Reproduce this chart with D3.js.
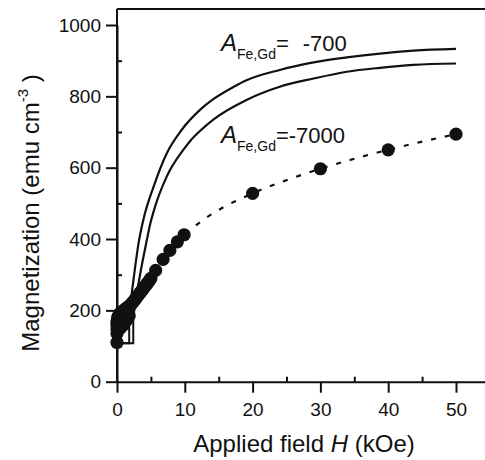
<!DOCTYPE html>
<html><head><meta charset="utf-8">
<script src="https://cdn.jsdelivr.net/npm/d3@7"></script>
<style>
html,body{margin:0;padding:0;background:#fff;}
svg{display:block;}
text{font-family:"Liberation Sans",Arial,Helvetica,sans-serif;fill:#111;}
</style></head>
<body>
<svg id="chart" width="485" height="460"></svg>
<script>
// ---- data ----
const xTicks = [0, 10, 20, 30, 40, 50];
const yTicks = [0, 200, 400, 600, 800, 1000];
const xMinor = [5, 15, 25, 35, 45];
const yMinor = [100, 300, 500, 700, 900];

// curve A(Fe,Gd) = -700 : flat part + rise
const upperFlatH = [0, 1.8, 1.8];
const upperFlatM = [108, 108, 190];
const upperH = [1.8, 2.2, 2.65, 3.15, 3.9, 5.4, 7.33, 9.5, 12.24, 14.2, 17.15, 19.1, 24, 29, 33.9, 38.8, 43.7, 50];
const upperM = [190, 252, 318, 385, 455, 547, 640, 705, 762, 792, 826, 845, 874, 895, 909, 920, 928, 933];

// curve A(Fe,Gd) = -7000
const lowerFlatH = [0, 2.4, 2.4];
const lowerFlatM = [108, 108, 182];
const lowerH = [2.4, 2.9, 3.4, 4.4, 4.87, 5.6, 7.33, 9.78, 10.8, 12.24, 14.2, 19.1, 24, 29, 33.9, 38.8, 43.7, 50];
const lowerM = [182, 245, 300, 397, 440, 490, 575, 650, 675, 703, 735, 790, 827, 850, 869, 880, 888, 892];

// measured points
const dotH = [0, 0, 0, 0, 0, 0.05, 0.1, 0.15, 0.2, 0.3, 0.4, 0.5, 0.6, 0.8, 1.0, 1.2, 1.4, 1.6, 1.8, 2.0, 2.2, 2.4, 2.6, 2.8, 3.0, 3.2, 3.4, 3.6, 3.8, 4.0, 4.2, 4.4, 4.6, 4.8, 5.0, 5.7, 6.8, 7.8, 8.9, 9.9, 20, 30, 40, 50, 0.5, 1.0, 1.4, 1.8];
const dotM = [110, 135, 148, 158, 166, 172, 177, 181, 184, 187, 190, 192, 194, 197, 200, 203, 206, 209, 212, 215, 220, 224, 229, 234, 239, 244, 249, 254, 259, 264, 269, 274, 279, 284, 290, 312, 343, 368, 392, 412, 528, 597, 650, 694, 150, 160, 172, 185];

// dashed guide through the high-field points
const fitH = [10, 14, 20, 25, 30, 35, 40, 45, 50];
const fitM = [414, 470, 528, 565, 597, 625, 650, 673, 694];

// ---- drawing ----
const svg = d3.select("#chart");
const x = d3.scaleLinear().domain([0, 55]).range([117, 117 + 55 * 6.78]);
const y = d3.scaleLinear().domain([0, 1000]).range([381.7, 25]);
const ink = "#111";

// top frame
svg.append("line").attr("x1", x(0)).attr("x2", x(55)).attr("y1", y(1045)).attr("y2", y(1045))
  .attr("stroke", ink).attr("stroke-width", 2);

// axes
svg.append("g").attr("transform", `translate(0,${y(0)})`)
  .call(d3.axisBottom(x).tickValues(xTicks).tickFormat(d3.format("d")).tickSize(11).tickPadding(10).tickSizeOuter(0));
svg.append("g").attr("transform", `translate(${x(0)},0)`)
  .call(d3.axisLeft(y).tickValues(yTicks).tickFormat(d3.format("d")).tickSize(11).tickPadding(5).tickSizeOuter(0));
svg.append("g").attr("transform", `translate(0,${y(0)})`)
  .call(d3.axisBottom(x).tickValues(xMinor).tickSize(-5).tickFormat("").tickSizeOuter(0))
  .call(g => g.select(".domain").remove());
svg.append("g").attr("transform", `translate(${x(0)},0)`)
  .call(d3.axisLeft(y).tickValues(yMinor).tickSize(-5).tickFormat("").tickSizeOuter(0))
  .call(g => g.select(".domain").remove());
svg.append("line").attr("x1", x(0)).attr("x2", x(0)).attr("y1", y(1045)).attr("y2", y(0))
  .attr("stroke", ink).attr("stroke-width", 2);

svg.selectAll(".domain").attr("stroke", ink).attr("stroke-width", 2);
svg.selectAll(".tick line").attr("stroke", ink).attr("stroke-width", 2);
svg.selectAll(".tick text").attr("font-size", 19).attr("fill", ink)
  .style("font-family", '"Liberation Sans",Arial,sans-serif');

// curves
const lineLin = d3.line().x(d => x(d[0])).y(d => y(d[1]));
const lineSmooth = d3.line().x(d => x(d[0])).y(d => y(d[1])).curve(d3.curveMonotoneX);
function drawCurve(fh, fm, h, m) {
  svg.append("path").attr("d", lineLin(fh.map((v, i) => [v, fm[i]])))
    .attr("fill", "none").attr("stroke", ink).attr("stroke-width", 2);
  svg.append("path").attr("d", lineSmooth(h.map((v, i) => [v, m[i]])))
    .attr("fill", "none").attr("stroke", ink).attr("stroke-width", 2.2);
}
drawCurve(upperFlatH, upperFlatM, upperH, upperM);
drawCurve(lowerFlatH, lowerFlatM, lowerH, lowerM);

// dashed fit
svg.append("path").attr("d", lineSmooth(fitH.map((v, i) => [v, fitM[i]])))
  .attr("fill", "none").attr("stroke", ink).attr("stroke-width", 2.2)
  .attr("stroke-dasharray", "5,9");

// dots
svg.append("g").selectAll("circle").data(dotH.map((v, i) => [v, dotM[i]])).join("circle")
  .attr("cx", d => x(d[0])).attr("cy", d => y(d[1])).attr("r", 6.6).attr("fill", ink);

// annotations
function annot(xp, yp, val, gap) {
  const t = svg.append("text").attr("x", xp).attr("y", yp).attr("font-size", 22);
  t.append("tspan").attr("font-style", "italic").attr("font-size", 24).text("A");
  t.append("tspan").attr("font-size", 14).attr("dy", 8).text("Fe,Gd");
  t.append("tspan").attr("dy", -8).attr("font-size", 22).text("=");
  t.append("tspan").attr("dx", gap).attr("font-size", 22).text(val);
}
annot(221, 51, "-700", 14);
annot(221, 143, "-7000", 0);

// axis titles
const xt = svg.append("text").attr("x", 304).attr("y", 452).attr("text-anchor", "middle").attr("font-size", 24);
xt.append("tspan").text("Applied field ");
xt.append("tspan").attr("font-style", "italic").text("H");
xt.append("tspan").text(" (kOe)");

const yt = svg.append("text").attr("transform", "translate(39,213) rotate(-90)")
  .attr("text-anchor", "middle").attr("font-size", 24);
yt.append("tspan").text("Magnetization (emu cm");
yt.append("tspan").attr("font-size", 15).attr("dy", -11).text("-3");
yt.append("tspan").attr("dy", 11).attr("xml:space", "preserve").text(" )");
</script>
</body></html>
